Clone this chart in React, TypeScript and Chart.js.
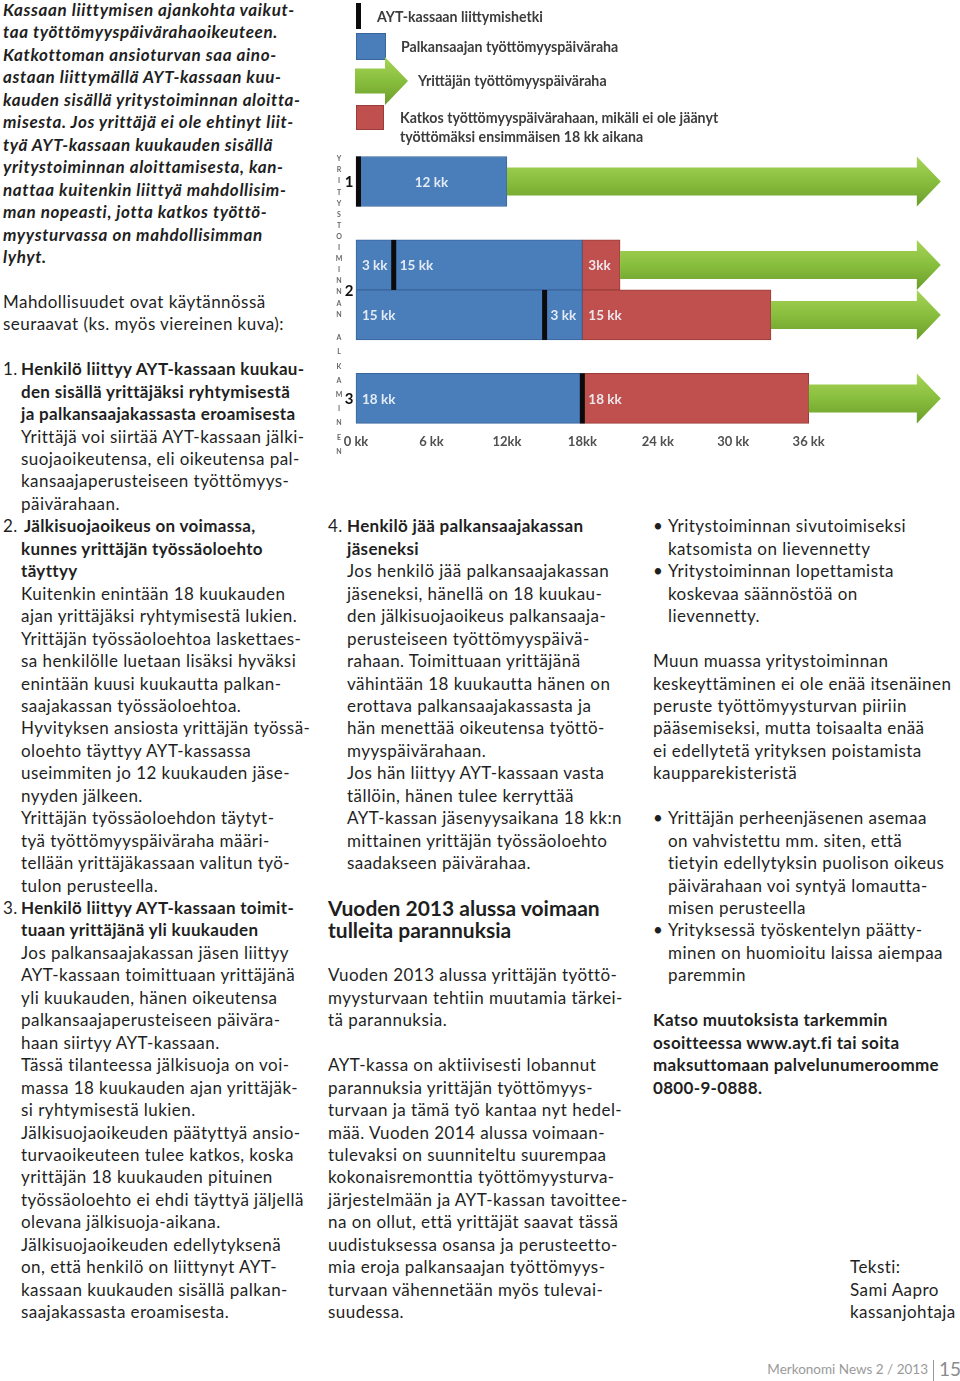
import React, { useEffect, useRef } from "react";
import { Chart, registerables } from "chart.js";

Chart.register(...registerables);

// ---------------- chart data ----------------
const rowLabels = ["1", "2", "3"];
const tickValues = [0, 6, 12, 18, 24, 30, 36];
const tickLabels = ["0 kk", "6 kk", "12kk", "18kk", "24 kk", "30 kk", "36 kk"];
const axisTitleWord1 = "YRITYSTOIMINNAN";
const axisTitleWord2 = "ALKAMINEN";

type Seg = [number, number] | null;

// upper lane of each case (months)
const joinUpper: (number | null)[] = [0, 3, 18];
const blueUpper1: Seg[] = [[0, 12], [0, 3], [0, 18]];
const blueUpper1Labels = ["12 kk", "3 kk", "18 kk"];
const blueUpper2: Seg[] = [null, [3, 18], null];
const blueUpper2Labels = ["", "15 kk", ""];
const redUpper: Seg[] = [null, [18, 21], [18, 36]];
const redUpperLabels = ["", "3kk", "18 kk"];
const greenUpper: Seg[] = [[12, 44.6], [21, 44.6], [36, 44.6]];

// lower lane (only case 2)
const joinLower: (number | null)[] = [null, 15, null];
const blueLower1: Seg[] = [null, [0, 15], null];
const blueLower1Labels = ["", "15 kk", ""];
const blueLower2: Seg[] = [null, [15, 18], null];
const blueLower2Labels = ["", "3 kk", ""];
const redLower: Seg[] = [null, [18, 33], null];
const redLowerLabels = ["", "15 kk", ""];
const greenLower: Seg[] = [null, [33, 44.6], null];

const legendJoin = "AYT-kassaan liittymishetki";
const legendBlue = "Palkansaajan työttömyyspäiväraha";
const legendGreen = "Yrittäjän työttömyyspäiväraha";
const legendRed = ["Katkos työttömyyspäivärahaan, mikäli ei ole jäänyt", "työttömäksi ensimmäisen 18 kk aikana"];

// ---------------- styles ----------------
const BLUE = "#4a7ebb";
const BLUE_B = "#3a659b";
const RED = "#c0504d";
const RED_B = "#9a3c39";
const FONT = "Lato, 'Open Sans', sans-serif";

function drawArrow(ctx: CanvasRenderingContext2D, x0: number, x1: number, yc: number, h: number, head: number, bodyRatio: number) {
  const bh = h * bodyRatio;
  const g = ctx.createLinearGradient(0, yc - h / 2, 0, yc + h / 2);
  g.addColorStop(0, "#a8d458");
  g.addColorStop(0.5, "#88be3d");
  g.addColorStop(1, "#6b9d2b");
  ctx.fillStyle = g;
  ctx.beginPath();
  ctx.moveTo(x0, yc - bh / 2);
  ctx.lineTo(x1, yc - bh / 2);
  ctx.lineTo(x1, yc - h / 2);
  ctx.lineTo(x1 + head, yc);
  ctx.lineTo(x1, yc + h / 2);
  ctx.lineTo(x1, yc + bh / 2);
  ctx.lineTo(x0, yc + bh / 2);
  ctx.closePath();
  ctx.fill();
}

const aytPlugin = {
  id: "aytPlugin",
  afterDatasetsDraw(chart: any) {
    const ctx: CanvasRenderingContext2D = chart.ctx;
    ctx.save();
    // arrows and join markers
    chart.data.datasets.forEach((ds: any, di: number) => {
      const meta = chart.getDatasetMeta(di);
      meta.data.forEach((el: any, i: number) => {
        if (ds.data[i] == null) return;
        const p = el.getProps(["x", "y", "base", "height"], true);
        if (ds.kind === "arrow") {
          drawArrow(ctx, p.base, p.x, p.y, p.height, 24, 0.56);
        } else if (ds.kind === "join") {
          const left = Math.max(p.x - 2.5, chart.chartArea.left);
          ctx.fillStyle = "#0b0b0b";
          ctx.fillRect(left, p.y - p.height / 2, 5, p.height);
        }
      });
    });
    // segment labels
    ctx.font = `bold 13.5px ${FONT}`;
    ctx.textBaseline = "middle";
    ctx.fillStyle = "rgba(240,244,250,0.92)";
    chart.data.datasets.forEach((ds: any, di: number) => {
      if (!ds.segLabels) return;
      const meta = chart.getDatasetMeta(di);
      meta.data.forEach((el: any, i: number) => {
        const txt = ds.segLabels[i];
        if (!txt || ds.data[i] == null) return;
        const p = el.getProps(["x", "y", "base", "height"], true);
        const align = ds.labelAlign ? ds.labelAlign[i] : "start";
        if (align === "center") {
          ctx.textAlign = "center";
          ctx.fillText(txt, (p.base + p.x) / 2, p.y + 1);
        } else {
          ctx.textAlign = "left";
          ctx.fillText(txt, p.base + 6, p.y + 1);
        }
      });
    });
    ctx.restore();
  },
  afterDraw(chart: any) {
    const ctx: CanvasRenderingContext2D = chart.ctx;
    const yScale = chart.scales.y;
    ctx.save();
    // row numbers
    ctx.font = `bold 15px ${FONT}`;
    ctx.fillStyle = "#111";
    ctx.textAlign = "center";
    ctx.textBaseline = "middle";
    rowLabels.forEach((lab, i) => {
      ctx.fillText(lab, 19, yScale.getPixelForValue(i) + 1);
    });
    // stacked axis title
    ctx.font = `bold 7px ${FONT}`;
    ctx.fillStyle = "#666";
    axisTitleWord1.split("").forEach((c, i) => ctx.fillText(c, 9, 159 + i * 11.1));
    axisTitleWord2.split("").forEach((c, i) => ctx.fillText(c, 9, 338 + i * 14.2));

    // legend
    ctx.textAlign = "left";
    ctx.font = `bold 14.2px ${FONT}`;
    ctx.fillStyle = "#0b0b0b";
    ctx.fillRect(26, 3, 5, 26);
    ctx.fillStyle = "#3c3c3c";
    ctx.fillText(legendJoin, 47, 17);

    ctx.fillStyle = BLUE;
    ctx.fillRect(26, 33, 30, 27);
    ctx.strokeStyle = BLUE_B;
    ctx.lineWidth = 1;
    ctx.strokeRect(26.5, 33.5, 29, 26);
    ctx.fillStyle = "#3c3c3c";
    ctx.fillText(legendBlue, 71, 47);

    drawArrow(ctx, 25, 55, 81, 48, 23, 0.52);
    ctx.fillStyle = "#3c3c3c";
    ctx.fillText(legendGreen, 88, 81);

    ctx.fillStyle = RED;
    ctx.fillRect(26, 105, 28, 25);
    ctx.strokeStyle = RED_B;
    ctx.strokeRect(26.5, 105.5, 27, 24);
    ctx.fillStyle = "#3c3c3c";
    ctx.fillText(legendRed[0], 70, 118);
    ctx.fillText(legendRed[1], 70, 137);
    ctx.restore();
  },
};

function segDataset(label: string, data: Seg[], labels: string[], stack: string, fill: string, border: string, labelAlign?: string[]) {
  return {
    type: "bar",
    label,
    data,
    segLabels: labels,
    labelAlign,
    stack,
    kind: "seg",
    backgroundColor: fill,
    borderColor: border,
    borderWidth: 1,
    borderSkipped: false,
    barThickness: 50,
    skipNull: true,
    clip: false,
  };
}

function markDataset(label: string, data: any[], stack: string, kind: string) {
  return {
    type: "bar",
    label,
    data,
    stack,
    kind,
    backgroundColor: "rgba(0,0,0,0)",
    borderWidth: 0,
    barThickness: 50,
    skipNull: true,
    clip: false,
  };
}

function AytChart() {
  const ref = useRef<HTMLCanvasElement | null>(null);
  useEffect(() => {
    if (!ref.current) return;
    const toPoint = (v: number | null) => (v == null ? null : [v, v]);
    const datasets: any[] = [
      segDataset(legendBlue, blueUpper1, blueUpper1Labels, "upper", BLUE, BLUE_B, ["center", "start", "start"]),
      segDataset(legendBlue, blueUpper2, blueUpper2Labels, "upper", BLUE, BLUE_B),
      segDataset(legendRed[0], redUpper, redUpperLabels, "upper", RED, RED_B),
      markDataset(legendGreen, greenUpper, "upper", "arrow"),
      markDataset(legendJoin, joinUpper.map(toPoint), "upper", "join"),
      segDataset(legendBlue, blueLower1, blueLower1Labels, "lower", BLUE, BLUE_B),
      segDataset(legendBlue, blueLower2, blueLower2Labels, "lower", BLUE, BLUE_B),
      segDataset(legendRed[0], redLower, redLowerLabels, "lower", RED, RED_B),
      markDataset(legendGreen, greenLower, "lower", "arrow"),
      markDataset(legendJoin, joinLower.map(toPoint), "lower", "join"),
    ];
    const chart = new Chart(ref.current, {
      type: "bar",
      data: { labels: rowLabels, datasets },
      options: {
        indexAxis: "y",
        responsive: false,
        animation: false,
        layout: { padding: { top: 181.5, left: 26, right: 13, bottom: 10 } },
        plugins: { legend: { display: false }, tooltip: { enabled: false } },
        scales: {
          y: { type: "category", offset: false, display: false, grid: { display: false } },
          x: {
            type: "linear",
            min: 0,
            max: 47,
            stacked: false,
            grid: { display: false, drawTicks: true, tickLength: 36 },
            border: { display: false },
            afterBuildTicks: (s: any) => {
              s.ticks = tickValues.map((v) => ({ value: v }));
            },
            ticks: {
              padding: 0,
              autoSkip: false,
              maxRotation: 0,
              color: "#505050",
              font: { family: FONT, size: 13, weight: "bold" },
              callback: (_v: any, i: number) => tickLabels[i] ?? "",
            },
          },
        },
      } as any,
      plugins: [aytPlugin],
    } as any);
    return () => chart.destroy();
  }, []);
  return (
    <canvas
      ref={ref}
      width={630}
      height={460}
      style={{ position: "absolute", left: 330, top: 0, width: 630, height: 460 }}
    />
  );
}

// ---------------- page text ----------------
type Ln = { t: string; b?: boolean; it?: boolean; n?: string; ind?: number } | null;
const LH = 22.45;
const Y0 = 10;

const leftLines: Ln[] = [
  { t: "Kassaan liittymisen ajankohta vaikut-", b: true, it: true },
  { t: "taa työttömyyspäivärahaoikeuteen.", b: true, it: true },
  { t: "Katkottoman ansioturvan saa aino-", b: true, it: true },
  { t: "astaan liittymällä AYT-kassaan kuu-", b: true, it: true },
  { t: "kauden sisällä yritystoiminnan aloitta-", b: true, it: true },
  { t: "misesta. Jos yrittäjä ei ole ehtinyt liit-", b: true, it: true },
  { t: "tyä AYT-kassaan kuukauden sisällä", b: true, it: true },
  { t: "yritystoiminnan aloittamisesta, kan-", b: true, it: true },
  { t: "nattaa kuitenkin liittyä mahdollisim-", b: true, it: true },
  { t: "man nopeasti, jotta katkos työttö-", b: true, it: true },
  { t: "myysturvassa on mahdollisimman", b: true, it: true },
  { t: "lyhyt.", b: true, it: true },
  null,
  { t: "Mahdollisuudet ovat käytännössä" },
  { t: "seuraavat (ks. myös viereinen kuva):" },
  null,
  { t: "Henkilö liittyy AYT-kassaan kuukau-", b: true, n: "1.", ind: 18 },
  { t: "den sisällä yrittäjäksi ryhtymisestä", b: true, ind: 18 },
  { t: "ja palkansaajakassasta eroamisesta", b: true, ind: 18 },
  { t: "Yrittäjä voi siirtää AYT-kassaan jälki-", ind: 18 },
  { t: "suojaoikeutensa, eli oikeutensa pal-", ind: 18 },
  { t: "kansaajaperusteiseen työttömyys-", ind: 18 },
  { t: "päivärahaan.", ind: 18 },
  { t: "Jälkisuojaoikeus on voimassa,", b: true, n: "2.", ind: 21 },
  { t: "kunnes yrittäjän työssäoloehto", b: true, ind: 18 },
  { t: "täyttyy", b: true, ind: 18 },
  { t: "Kuitenkin enintään 18 kuukauden", ind: 18 },
  { t: "ajan yrittäjäksi ryhtymisestä lukien.", ind: 18 },
  { t: "Yrittäjän työssäoloehtoa laskettaes-", ind: 18 },
  { t: "sa henkilölle luetaan lisäksi hyväksi", ind: 18 },
  { t: "enintään kuusi kuukautta palkan-", ind: 18 },
  { t: "saajakassan työssäoloehtoa.", ind: 18 },
  { t: "Hyvityksen ansiosta yrittäjän työssä-", ind: 18 },
  { t: "oloehto täyttyy AYT-kassassa", ind: 18 },
  { t: "useimmiten jo 12 kuukauden jäse-", ind: 18 },
  { t: "nyyden jälkeen.", ind: 18 },
  { t: "Yrittäjän työssäoloehdon täytyt-", ind: 18 },
  { t: "tyä työttömyyspäiväraha määri-", ind: 18 },
  { t: "tellään yrittäjäkassaan valitun työ-", ind: 18 },
  { t: "tulon perusteella.", ind: 18 },
  { t: "Henkilö liittyy AYT-kassaan toimit-", b: true, n: "3.", ind: 18 },
  { t: "tuaan yrittäjänä yli kuukauden", b: true, ind: 18 },
  { t: "Jos palkansaajakassan jäsen liittyy", ind: 18 },
  { t: "AYT-kassaan toimittuaan yrittäjänä", ind: 18 },
  { t: "yli kuukauden, hänen oikeutensa", ind: 18 },
  { t: "palkansaajaperusteiseen päivära-", ind: 18 },
  { t: "haan siirtyy AYT-kassaan.", ind: 18 },
  { t: "Tässä tilanteessa jälkisuoja on voi-", ind: 18 },
  { t: "massa 18 kuukauden ajan yrittäjäk-", ind: 18 },
  { t: "si ryhtymisestä lukien.", ind: 18 },
  { t: "Jälkisuojaoikeuden päätyttyä ansio-", ind: 18 },
  { t: "turvaoikeuteen tulee katkos, koska", ind: 18 },
  { t: "yrittäjän 18 kuukauden pituinen", ind: 18 },
  { t: "työssäoloehto ei ehdi täyttyä jäljellä", ind: 18 },
  { t: "olevana jälkisuoja-aikana.", ind: 18 },
  { t: "Jälkisuojaoikeuden edellytyksenä", ind: 18 },
  { t: "on, että henkilö on liittynyt AYT-", ind: 18 },
  { t: "kassaan kuukauden sisällä palkan-", ind: 18 },
  { t: "saajakassasta eroamisesta.", ind: 18 },
];

const midLines: Ln[] = [
  { t: "Henkilö jää palkansaajakassan", b: true, n: "4.", ind: 19 },
  { t: "jäseneksi", b: true, ind: 19 },
  { t: "Jos henkilö jää palkansaajakassan", ind: 19 },
  { t: "jäseneksi, hänellä on 18 kuukau-", ind: 19 },
  { t: "den jälkisuojaoikeus palkansaaja-", ind: 19 },
  { t: "perusteiseen työttömyyspäivä-", ind: 19 },
  { t: "rahaan. Toimittuaan yrittäjänä", ind: 19 },
  { t: "vähintään 18 kuukautta hänen on", ind: 19 },
  { t: "erottava palkansaajakassasta ja", ind: 19 },
  { t: "hän menettää oikeutensa työttö-", ind: 19 },
  { t: "myyspäivärahaan.", ind: 19 },
  { t: "Jos hän liittyy AYT-kassaan vasta", ind: 19 },
  { t: "tällöin, hänen tulee kerryttää", ind: 19 },
  { t: "AYT-kassan jäsenyysaikana 18 kk:n", ind: 19 },
  { t: "mittainen yrittäjän työssäoloehto", ind: 19 },
  { t: "saadakseen päivärahaa.", ind: 19 },
];

const midLines2: Ln[] = [
  { t: "Vuoden 2013 alussa yrittäjän työttö-" },
  { t: "myysturvaan tehtiin muutamia tärkei-" },
  { t: "tä parannuksia." },
  null,
  { t: "AYT-kassa on aktiivisesti lobannut" },
  { t: "parannuksia yrittäjän työttömyys-" },
  { t: "turvaan ja tämä työ kantaa nyt hedel-" },
  { t: "mää. Vuoden 2014 alussa voimaan-" },
  { t: "tulevaksi on suunniteltu suurempaa" },
  { t: "kokonaisremonttia työttömyysturva-" },
  { t: "järjestelmään ja AYT-kassan tavoittee-" },
  { t: "na on ollut, että yrittäjät saavat tässä" },
  { t: "uudistuksessa osansa ja perusteetto-" },
  { t: "mia eroja palkansaajan työttömyys-" },
  { t: "turvaan vähennetään myös tulevai-" },
  { t: "suudessa." },
];

const rightLines: Ln[] = [
  { t: "Yritystoiminnan sivutoimiseksi", n: "•", ind: 15 },
  { t: "katsomista on lievennetty", ind: 15 },
  { t: "Yritystoiminnan lopettamista", n: "•", ind: 15 },
  { t: "koskevaa säännöstöä on", ind: 15 },
  { t: "lievennetty.", ind: 15 },
  null,
  { t: "Muun muassa yritystoiminnan" },
  { t: "keskeyttäminen ei ole enää itsenäinen" },
  { t: "peruste työttömyysturvan piiriin" },
  { t: "pääsemiseksi, mutta toisaalta enää" },
  { t: "ei edellytetä yrityksen poistamista" },
  { t: "kaupparekisteristä" },
  null,
  { t: "Yrittäjän perheenjäsenen asemaa", n: "•", ind: 15 },
  { t: "on vahvistettu mm. siten, että", ind: 15 },
  { t: "tietyin edellytyksin puolison oikeus", ind: 15 },
  { t: "päivärahaan voi syntyä lomautta-", ind: 15 },
  { t: "misen perusteella", ind: 15 },
  { t: "Yrityksessä työskentelyn päätty-", n: "•", ind: 15 },
  { t: "minen on huomioitu laissa aiempaa", ind: 15 },
  { t: "paremmin", ind: 15 },
  null,
  { t: "Katso muutoksista tarkemmin", b: true },
  { t: "osoitteessa www.ayt.fi tai soita", b: true },
  { t: "maksuttomaan palvelunumeroomme", b: true },
  { t: "0800-9-0888.", b: true },
];

const creditLines: Ln[] = [{ t: "Teksti:" }, { t: "Sami Aapro" }, { t: "kassanjohtaja" }];

function Column({ x, start, lines }: { x: number; start: number; lines: Ln[] }) {
  return (
    <>
      {lines.map((ln, k) =>
        ln ? (
          <div
            key={k}
            style={{
              position: "absolute",
              left: x + (ln.ind || 0),
              top: Y0 + (start + k) * LH - 11,
              whiteSpace: "nowrap",
              lineHeight: `${LH}px`,
              fontWeight: ln.b ? 700 : 400,
              fontStyle: ln.it ? "italic" : "normal",
              letterSpacing: ln.it ? "0.62px" : ln.b ? "0.32px" : "0.45px",
            }}
          >
            {ln.n ? (
              <span style={{ position: "absolute", left: -(ln.ind || 0), fontWeight: 400, fontStyle: "normal" }}>{ln.n}</span>
            ) : null}
            {ln.t}
          </div>
        ) : null
      )}
    </>
  );
}

export default function App() {
  return (
    <div
      style={{
        position: "absolute",
        left: 0,
        top: 0,
        width: 960,
        height: 1381,
        overflow: "hidden",
        background: "#fff",
        fontFamily: FONT,
        fontSize: 17,
        color: "#1f1f1f",
      }}
    >
      <AytChart />
      <Column x={3} start={0} lines={leftLines} />
      <Column x={328} start={23} lines={midLines} />
      <div
        style={{
          position: "absolute",
          left: 328,
          top: Y0 + 40 * LH - 11,
          fontSize: 21,
          fontWeight: 700,
          lineHeight: `${LH}px`,
          whiteSpace: "nowrap",
        }}
      >
        Vuoden 2013 alussa voimaan
        <br />
        tulleita parannuksia
      </div>
      <Column x={328} start={43} lines={midLines2} />
      <Column x={653} start={23} lines={rightLines} />
      <Column x={850} start={56} lines={creditLines} />
      <div
        style={{
          position: "absolute",
          left: 600,
          width: 328,
          top: 1361,
          textAlign: "right",
          fontSize: 13.5,
          color: "#9a9a9a",
          whiteSpace: "nowrap",
        }}
      >
        Merkonomi News 2 / 2013
      </div>
      <div style={{ position: "absolute", left: 933, top: 1360, width: 1, height: 21, background: "#9a9a9a" }} />
      <div style={{ position: "absolute", left: 939, top: 1357, fontSize: 19, color: "#8a8a8a", whiteSpace: "nowrap" }}>
        15
      </div>
    </div>
  );
}
